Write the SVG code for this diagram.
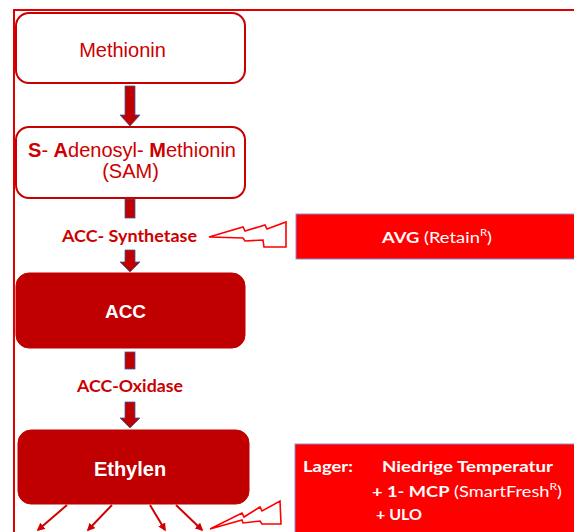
<svg xmlns="http://www.w3.org/2000/svg" width="574" height="532" viewBox="0 0 574 532">
  <defs>
    <style>
      .frame { stroke: #e00000; stroke-width: 2; fill: none; }
      .obox { fill: #ffffff; stroke: #c80000; stroke-width: 2; }
      .fbox { fill: #c00000; stroke: #c00000; stroke-width: 1; }
      .rbox { fill: #ff0000; stroke: #8c8cd0; stroke-width: 1; }
      .big { fill: #c00000; stroke: #3c5aa0; stroke-width: 0.8; }
      .thin { stroke: #d00000; stroke-width: 2; fill: none; marker-end: url(#ah); }
      .bolt { fill: #ffffff; stroke: #ff0000; stroke-width: 1.6; stroke-linejoin: miter; }
      .ar { font-family: "Liberation Sans", Arial, sans-serif; }
      .ca { font-family: Lato, "Open Sans", sans-serif; }
      .red { fill: #cc0000; }
      .wh { fill: #ffffff; }
      .b { font-weight: bold; }
    </style>
    <marker id="ah" viewBox="0 0 10 10" refX="8" refY="5" markerWidth="4" markerHeight="4" orient="auto" markerUnits="strokeWidth">
      <path d="M0,0 L10,5 L0,10 z" fill="#d00000"/>
    </marker>
  </defs>

  <rect width="574" height="532" fill="#ffffff"/>
  <path class="frame" d="M14,532 L14,10 L574,10"/>

  <g id="connectors">
    <path class="big" d="M125,86 H135 V115 H140 L130,126 L120,115 H125 Z"/>
    <rect class="big" x="125" y="199" width="10" height="19"/>
    <path class="big" d="M125,250 H135 V262 H140 L130,272 L120,262 H125 Z"/>
    <rect class="big" x="125" y="352" width="10" height="17"/>
    <path class="big" d="M125,402 H135 V418 H140 L130,428 L120,418 H125 Z"/>
    <line class="thin" x1="67" y1="505" x2="38" y2="530"/>
    <line class="thin" x1="112" y1="505" x2="88" y2="530"/>
    <line class="thin" x1="150" y1="505" x2="165" y2="530"/>
    <line class="thin" x1="176" y1="505" x2="202" y2="530"/>
    <polygon class="bolt" points="209,237 243,227 245,231 265,225 267,229 286,222 286,247 264,247 263,240 245,241 243,238"/>
    <polygon class="bolt" points="210,529 242,513 244,517 260,507 262,511 280,501 281,524 262,524 260,521 243,523 242,520"/>
  </g>

  <g id="methionin">
    <rect class="obox" x="16" y="13" width="229" height="70" rx="13"/>
    <text class="ar red" x="122.5" y="57" font-size="20" text-anchor="middle">Methionin</text>
  </g>

  <g id="sam">
    <rect class="obox" x="16" y="127" width="229" height="71" rx="13"/>
    <text class="ar red" x="132" y="157" font-size="20" text-anchor="middle"><tspan class="b">S</tspan>- <tspan class="b">A</tspan>denosyl- <tspan class="b">M</tspan>ethionin</text>
    <text class="ar red" x="130.5" y="178" font-size="20" text-anchor="middle">(SAM)</text>
  </g>

  <g id="acc-synthetase">
    <text class="ca red b" x="62" y="242" font-size="17" textLength="135" lengthAdjust="spacingAndGlyphs">ACC- Synthetase</text>
  </g>

  <g id="acc">
    <rect class="fbox" x="16" y="273" width="229" height="75" rx="13"/>
    <text class="ar wh b" x="125.5" y="318" font-size="19" text-anchor="middle">ACC</text>
  </g>

  <g id="acc-oxidase">
    <text class="ca red b" x="77" y="392" font-size="17" textLength="106" lengthAdjust="spacingAndGlyphs">ACC-Oxidase</text>
  </g>

  <g id="ethylen">
    <rect class="fbox" x="18" y="430" width="231" height="74" rx="13"/>
    <text class="ar wh b" x="130" y="476" font-size="20" text-anchor="middle">Ethylen</text>
  </g>

  <g id="avg">
    <rect class="rbox" x="296" y="214" width="285" height="45"/>
    <text class="ca wh" x="382" y="243" font-size="16" textLength="110" lengthAdjust="spacingAndGlyphs"><tspan class="b">AVG</tspan> (Retain<tspan font-size="10" dy="-7">R</tspan><tspan dy="7">)</tspan></text>
  </g>

  <g id="lager">
    <rect class="rbox" x="295" y="444" width="286" height="95"/>
    <text class="ca wh b" x="303" y="472" font-size="15" textLength="50" lengthAdjust="spacingAndGlyphs">Lager:</text>
    <text class="ca wh b" x="382" y="472" font-size="15" textLength="171" lengthAdjust="spacingAndGlyphs">Niedrige Temperatur</text>
    <text class="ca wh" x="372" y="497" font-size="15" textLength="190" lengthAdjust="spacingAndGlyphs"><tspan class="b">+ 1- MCP</tspan> (SmartFresh<tspan font-size="10" dy="-7">R</tspan><tspan dy="7">)</tspan></text>
    <text class="ca wh b" x="376" y="520" font-size="15" textLength="46" lengthAdjust="spacingAndGlyphs">+ ULO</text>
  </g>
</svg>
